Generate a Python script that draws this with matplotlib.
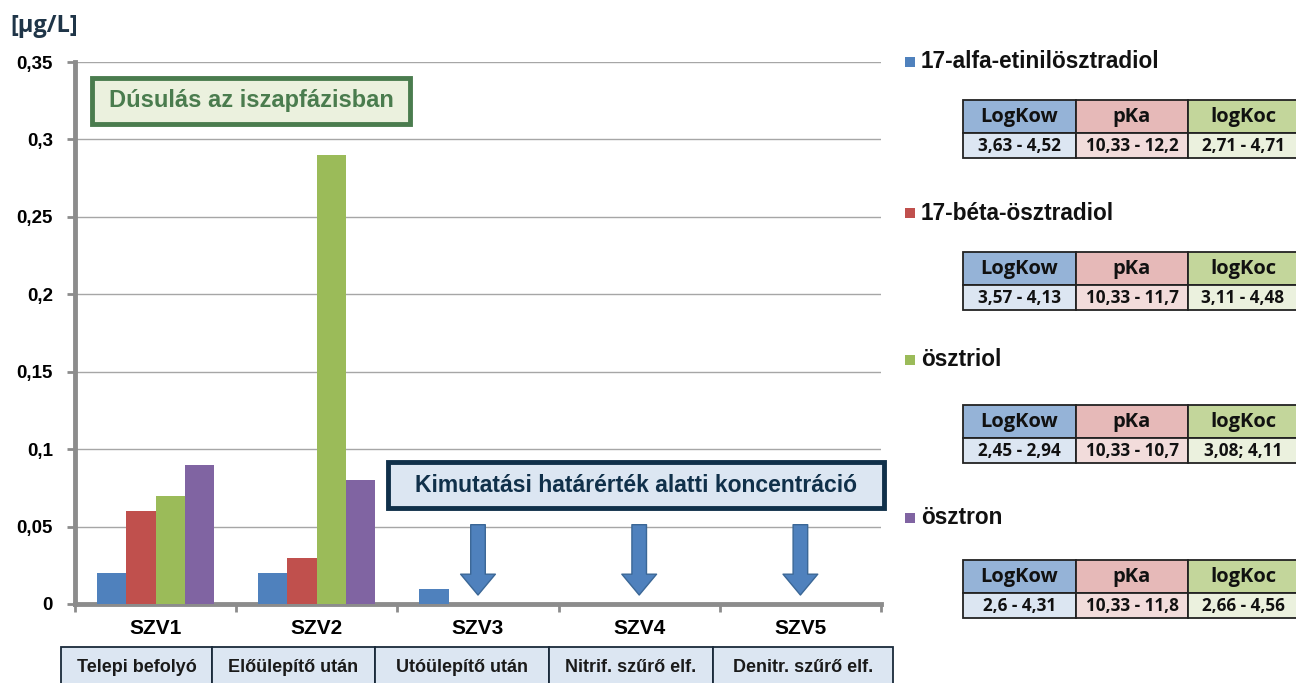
import matplotlib.pyplot as plt
import numpy as np
from matplotlib.patches import FancyArrowPatch, Rectangle

plt.rcParams['font.family'] = ['Liberation Sans', 'DejaVu Sans']

# Data
stations = ['SZV1', 'SZV2', 'SZV3', 'SZV4', 'SZV5']
stages = ['Telepi befolyó', 'Előülepítő után', 'Utóülepítő után',
          'Nitrif. szűrő elf.', 'Denitr. szűrő elf.']
compounds = ['17-alfa-etinilösztradiol', '17-béta-ösztradiol', 'ösztriol', 'ösztron']
etinil = [0.02, 0.02, 0.01, 0, 0]
beta = [0.06, 0.03, 0, 0, 0]
osztriol = [0.07, 0.29, 0, 0, 0]
osztron = [0.09, 0.08, 0, 0, 0]
below_limit = ['SZV3', 'SZV4', 'SZV5']

prop_header = ['LogKow', 'pKa', 'logKoc']
logkow = ['3,63 - 4,52', '3,57 - 4,13', '2,45 - 2,94', '2,6 - 4,31']
pka = ['10,33 - 12,2', '10,33 - 11,7', '10,33 - 10,7', '10,33 - 11,8']
logkoc = ['2,71 - 4,71', '3,11 - 4,48', '3,08; 4,11', '2,66 - 4,56']

colors = ['#4f81bd', '#c0504d', '#9bbb59', '#8064a2']
head_colors = ['#95b3d7', '#e6b9b8', '#c3d69b']
cell_colors = ['#dce6f2', '#f2dcdb', '#ebf1de']

W, H = 1296, 683
fig = plt.figure(figsize=(W / 100, H / 100), dpi=100)


def fbox(x0, y0, x1, y1):
    # pixel box (top-left origin) -> figure coords
    return [x0 / W, 1 - y1 / H, (x1 - x0) / W, (y1 - y0) / H]


def frect(x0, y0, x1, y1, **kw):
    b = fbox(x0, y0, x1, y1)
    fig.patches.append(Rectangle((b[0], b[1]), b[2], b[3],
                                 transform=fig.transFigure, **kw))


ax = fig.add_axes(fbox(75, 62, 881, 604))
x = np.arange(len(stations))
w = 0.182
series = [etinil, beta, osztriol, osztron]
for i, (vals, c) in enumerate(zip(series, colors)):
    ax.bar(x + (i - 1.5) * w, vals, w, color=c, zorder=3)

ax.set_xlim(-0.5, len(stations) - 0.5)
ax.set_ylim(0, 0.35)
yt = [0, 0.05, 0.1, 0.15, 0.2, 0.25, 0.3, 0.35]
ax.set_yticks(yt)
ax.set_yticklabels([('%g' % v).replace('.', ',') for v in yt],
                   fontsize=13.5, fontweight='bold')
ax.yaxis.grid(True, color='#a6a6a6', linewidth=1, zorder=0)
ax.set_xticks(x)
ax.set_xticklabels(stations, fontsize=15, fontweight='bold')
ax.set_xticks(np.arange(-0.5, len(stations)), minor=True)
ax.tick_params(axis='x', which='major', length=0, pad=11)
ax.tick_params(axis='x', which='minor', length=6, width=2, color='#8c8c8c')
ax.tick_params(axis='y', length=6, width=2, color='#8c8c8c', pad=10)
for s in ['top', 'right']:
    ax.spines[s].set_visible(False)
for s in ['left', 'bottom']:
    ax.spines[s].set_color('#8c8c8c')
    ax.spines[s].set_linewidth(3.5)

# arrows for below detection limit
for st in below_limit:
    xi = stations.index(st)
    arr = FancyArrowPatch((xi, 0.053), (xi, 0.004), mutation_scale=1,
                          arrowstyle='simple,head_length=15,head_width=25,tail_width=10.5',
                          facecolor='#4f81bd', edgecolor='#3b6796', linewidth=1, zorder=4)
    ax.add_patch(arr)

fig.text(10 / W, 1 - 26 / H, '[µg/L]', fontsize=17, fontweight='bold',
         family=['Open Sans', 'DejaVu Sans'],
         color='#1f3548', va='center', ha='left')

frect(92, 78, 410, 124, facecolor='#ebf1de', edgecolor='#4a7c4e', linewidth=3.5)
fig.text(251 / W, 1 - 101 / H, 'Dúsulás az iszapfázisban', fontsize=17,
         fontweight='bold', color='#4a7c4e', ha='center', va='center')
frect(388, 462, 884, 508, facecolor='#dce6f2', edgecolor='#10304a', linewidth=3.5)
fig.text(636 / W, 1 - 485 / H, 'Kimutatási határérték alatti koncentráció',
         fontsize=16.5, fontweight='bold', color='#10304a', ha='center', va='center')

# bottom stage table
edges = [61, 212, 375, 549, 713, 893]
for i, lab in enumerate(stages):
    x0, x1 = edges[i], edges[i + 1]
    frect(x0, 647, x1, 690, facecolor='#dce6f2', edgecolor='#1a2a3a', linewidth=1.3)
    fig.text((x0 + x1) / 2 / W, 1 - 667 / H, lab, fontsize=13, fontweight='bold',
             ha='center', va='center', color='#1a1a1a')

# right side legend + property tables
leg_y = [62, 213, 360, 518]
tab_y = [100, 252, 405, 560]
col_edges = [963, 1076, 1188, 1310]
for k in range(len(compounds)):
    ly = leg_y[k]
    frect(905, ly - 5, 915, ly + 5, facecolor=colors[k], edgecolor='none')
    fig.text(921 / W, 1 - ly / H, compounds[k], fontsize=16.3, fontweight='bold',
             ha='left', va='center', color='#111111')
    ty = tab_y[k]
    vals = [logkow[k], pka[k], logkoc[k]]
    for j in range(3):
        x0, x1 = col_edges[j], col_edges[j + 1]
        frect(x0, ty, x1, ty + 33, facecolor=head_colors[j],
              edgecolor='#222222', linewidth=1.3)
        frect(x0, ty + 33, x1, ty + 58, facecolor=cell_colors[j],
              edgecolor='#222222', linewidth=1.3)
        cx = (x0 + min(x1, 1298)) / 2
        fig.text(cx / W, 1 - (ty + 17) / H, prop_header[j], fontsize=14.5,
                 fontweight='bold', family=['Open Sans', 'DejaVu Sans'],
                 ha='center', va='center', color='#111111')
        fig.text(cx / W, 1 - (ty + 46) / H, vals[j], fontsize=12.3,
                 fontweight='bold', family=['Open Sans', 'DejaVu Sans'],
                 ha='center', va='center', color='#111111')

fig.savefig('out.png', dpi=100)
